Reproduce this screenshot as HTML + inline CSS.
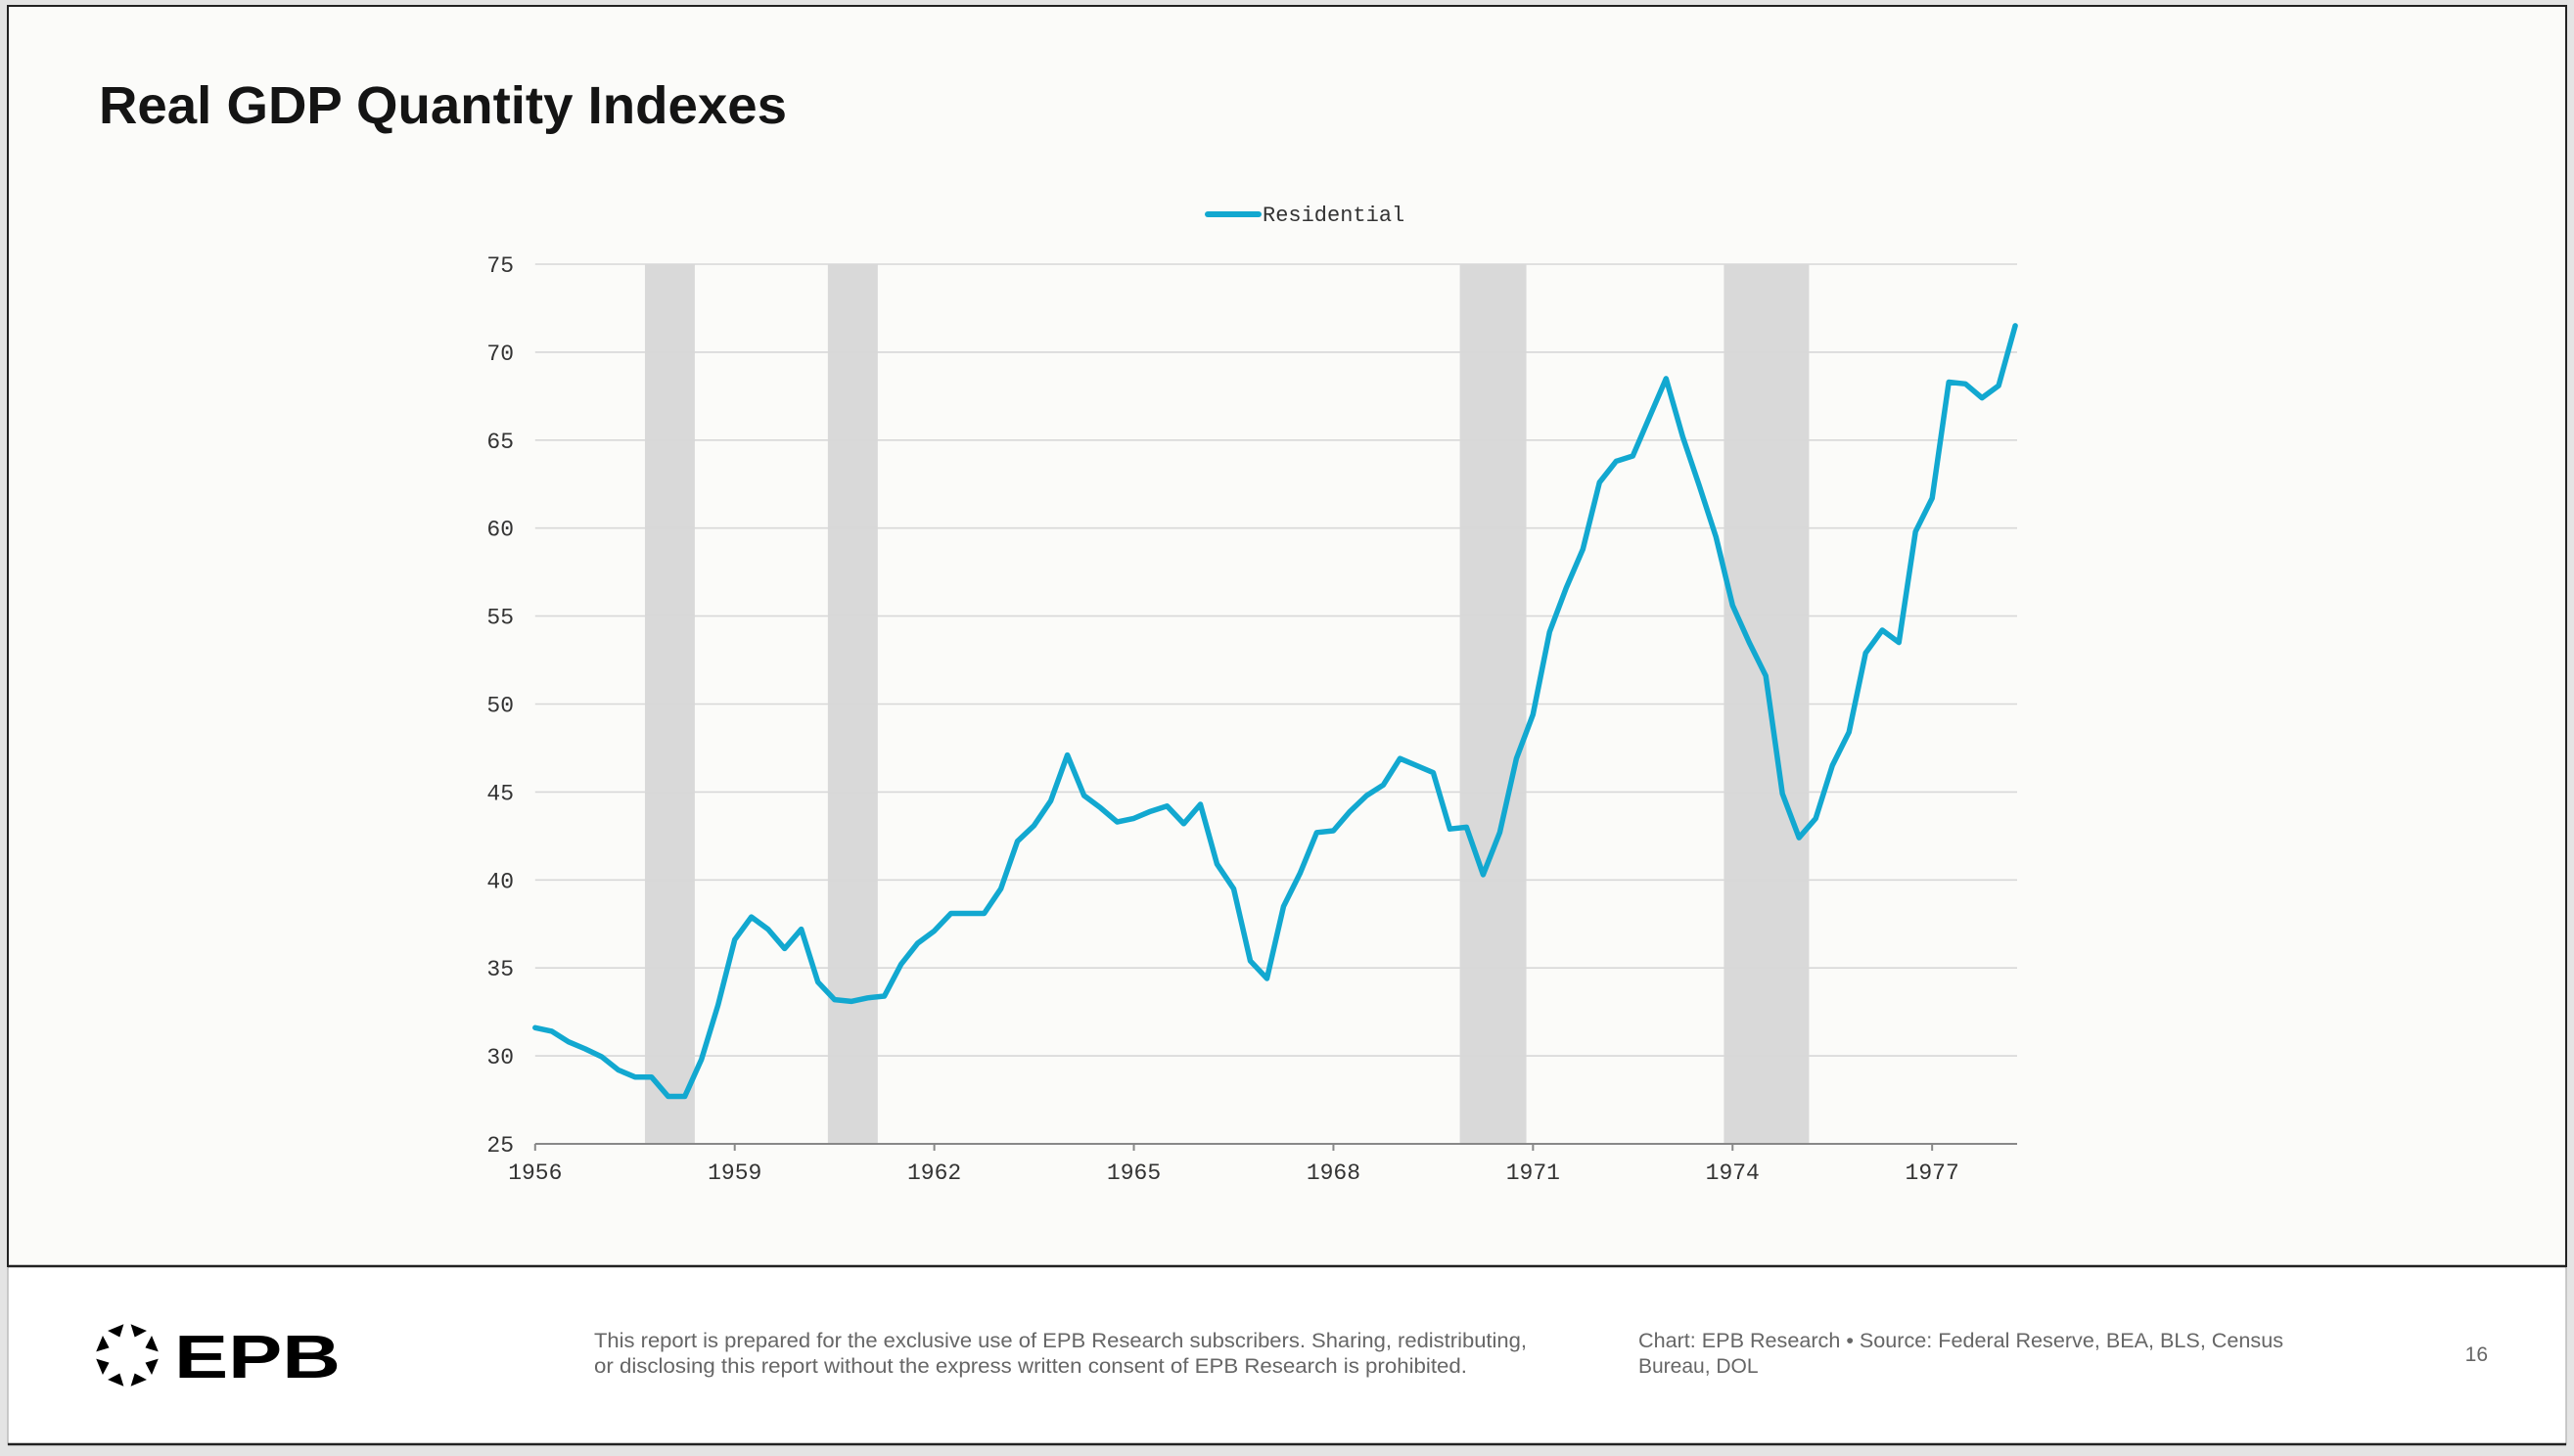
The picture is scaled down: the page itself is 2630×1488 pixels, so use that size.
<!DOCTYPE html>
<html><head><meta charset="utf-8"><style>
html,body{margin:0;padding:0;background:#e4e4e4;}
svg{display:block;}
</style></head><body>
<svg id="chart" width="2630" height="1488" viewBox="0 0 2630 1488" xmlns="http://www.w3.org/2000/svg">
<rect x="0" y="0" width="2630" height="1488" fill="#e4e4e4"/>
<rect x="8" y="6" width="2614" height="1470" fill="#ffffff" stroke="#bbb" stroke-width="1.5"/>
<rect x="8" y="6" width="2614" height="1288" fill="#fbfbf9" stroke="#222" stroke-width="2"/>
<line x1="8" y1="1294" x2="2622" y2="1294" stroke="#222" stroke-width="2.5"/>
<line x1="8" y1="1476" x2="2622" y2="1476" stroke="#222" stroke-width="2.5"/>
<text x="101" y="126" font-family="Liberation Sans, sans-serif" font-weight="bold" font-size="54" fill="#141414" textLength="703" lengthAdjust="spacingAndGlyphs">Real GDP Quantity Indexes</text>
<g id="legend">
<line x1="1234" y1="219" x2="1286" y2="219" stroke="#12a8d0" stroke-width="6" stroke-linecap="round"/>
<text x="1290" y="226" font-family="Liberation Mono, monospace" font-size="22" fill="#333">Residential</text>
</g>
<g id="bands"></g>
<g id="grid"></g>
<g id="axes"></g>
<g id="series"></g>
<g id="footer">
<g id="logo-mark"></g>
<text x="178" y="1408" font-family="Liberation Sans, sans-serif" font-weight="bold" font-size="62" fill="#000" textLength="170" lengthAdjust="spacingAndGlyphs">EPB</text>
<text x="607" y="1377" font-family="Liberation Sans, sans-serif" font-size="21" fill="#666" textLength="953" lengthAdjust="spacingAndGlyphs">This report is prepared for the exclusive use of EPB Research subscribers. Sharing, redistributing,</text>
<text x="607" y="1403" font-family="Liberation Sans, sans-serif" font-size="21" fill="#666" textLength="892" lengthAdjust="spacingAndGlyphs">or disclosing this report without the express written consent of EPB Research is prohibited.</text>
<text x="1674" y="1377" font-family="Liberation Sans, sans-serif" font-size="21" fill="#666" textLength="659" lengthAdjust="spacingAndGlyphs">Chart: EPB Research  •  Source: Federal Reserve, BEA, BLS, Census</text>
<text x="1674" y="1403" font-family="Liberation Sans, sans-serif" font-size="21" fill="#666">Bureau, DOL</text>
<text x="2542" y="1391" text-anchor="end" font-family="Liberation Sans, sans-serif" font-size="21" fill="#666">16</text>
</g>
</svg>
<script>
const startYear = 1956;
const residential = [31.6,31.4,30.8,30.4,29.95,29.2,28.8,28.8,27.7,27.7,29.8,32.9,36.6,37.9,37.2,36.1,37.2,34.2,33.2,33.1,33.3,33.4,35.2,36.4,37.1,38.1,38.1,38.1,39.5,42.2,43.1,44.5,47.1,44.8,44.1,43.3,43.5,43.9,44.2,43.2,44.3,40.9,39.5,35.4,34.4,38.5,40.4,42.7,42.8,43.9,44.8,45.4,46.9,46.5,46.1,42.9,43.0,40.3,42.7,46.9,49.4,54.1,56.6,58.8,62.6,63.8,64.1,66.3,68.5,65.2,62.4,59.5,55.6,53.5,51.6,44.9,42.4,43.5,46.5,48.4,52.9,54.2,53.5,59.8,61.7,68.3,68.2,67.4,68.1,71.5];
const recessionStarts = [1957.65,1960.4,1969.9,1973.87];
const recessionEnds = [1958.4,1961.15,1970.9,1975.15];
const yTicks = [25,30,35,40,45,50,55,60,65,70,75];
const xTicks = [1956,1959,1962,1965,1968,1971,1974,1977];
const NS='http://www.w3.org/2000/svg';
const X0=546.8, PXY=67.97, XR=2061, Y0=1169, Y1=270, VMIN=25, VMAX=75;
function xs(t){return X0+(t-startYear)*PXY;}
function ys(v){return Y0-(v-VMIN)/(VMAX-VMIN)*(Y0-Y1);}
function mk(tag,attrs,parent){const e=document.createElementNS(NS,tag);for(const k in attrs)e.setAttribute(k,attrs[k]);parent.appendChild(e);return e;}
const bands=document.getElementById('bands'),grid=document.getElementById('grid'),axes=document.getElementById('axes'),series=document.getElementById('series');
recessionStarts.forEach((s,i)=>{
  const r=mk('rect',{x:xs(s),y:Y1,width:xs(recessionEnds[i])-xs(s),height:Y0-Y1,fill:'#d9d9d9'},bands);
  
  
});
yTicks.forEach(v=>{
  if(v!==VMIN){const l=mk('line',{x1:X0,x2:XR,y1:ys(v),y2:ys(v),stroke:'#d8d8d8','stroke-width':1.6},grid);
  
  }
  const t=mk('text',{x:525,y:ys(v)+8,'text-anchor':'end','font-family':'Liberation Mono, monospace','font-size':23,fill:'#333'},axes);
  t.textContent=v;
  
  
});
const ax=mk('line',{x1:X0,x2:XR,y1:Y0,y2:Y0,stroke:'#888','stroke-width':2},axes);


xTicks.forEach(yr=>{
  const tk=mk('line',{x1:xs(yr),x2:xs(yr),y1:Y0,y2:Y0+7,stroke:'#888','stroke-width':2},axes);
  
  
  const t=mk('text',{x:xs(yr),y:Y0+36,'text-anchor':'middle','font-family':'Liberation Mono, monospace','font-size':23,fill:'#333'},axes);
  t.textContent=yr;
  
  
});
const pts=residential.map((v,i)=>xs(startYear+i/4).toFixed(1)+','+ys(v).toFixed(1)).join(' ');
const pl=mk('polyline',{points:pts,fill:'none',stroke:'#12a8d0','stroke-width':5.5,'stroke-linejoin':'round','stroke-linecap':'round'},series);


const logo=document.getElementById('logo-mark');
for(let k=0;k<8;k++){
  const a=(k*45+22.5)*Math.PI/180, cx=130, cy=1385, r1=20, r2=32, hw=0.28;
  const p1=[cx+r2*Math.cos(a-hw),cy+r2*Math.sin(a-hw)],p2=[cx+r2*Math.cos(a+hw),cy+r2*Math.sin(a+hw)],p3=[cx+r1*Math.cos(a),cy+r1*Math.sin(a)];
  const tri=mk('polygon',{points:[p1,p2,p3].map(p=>p.join(',')).join(' '),fill:'#000'},logo);
  
  
}
</script>
</body></html>
